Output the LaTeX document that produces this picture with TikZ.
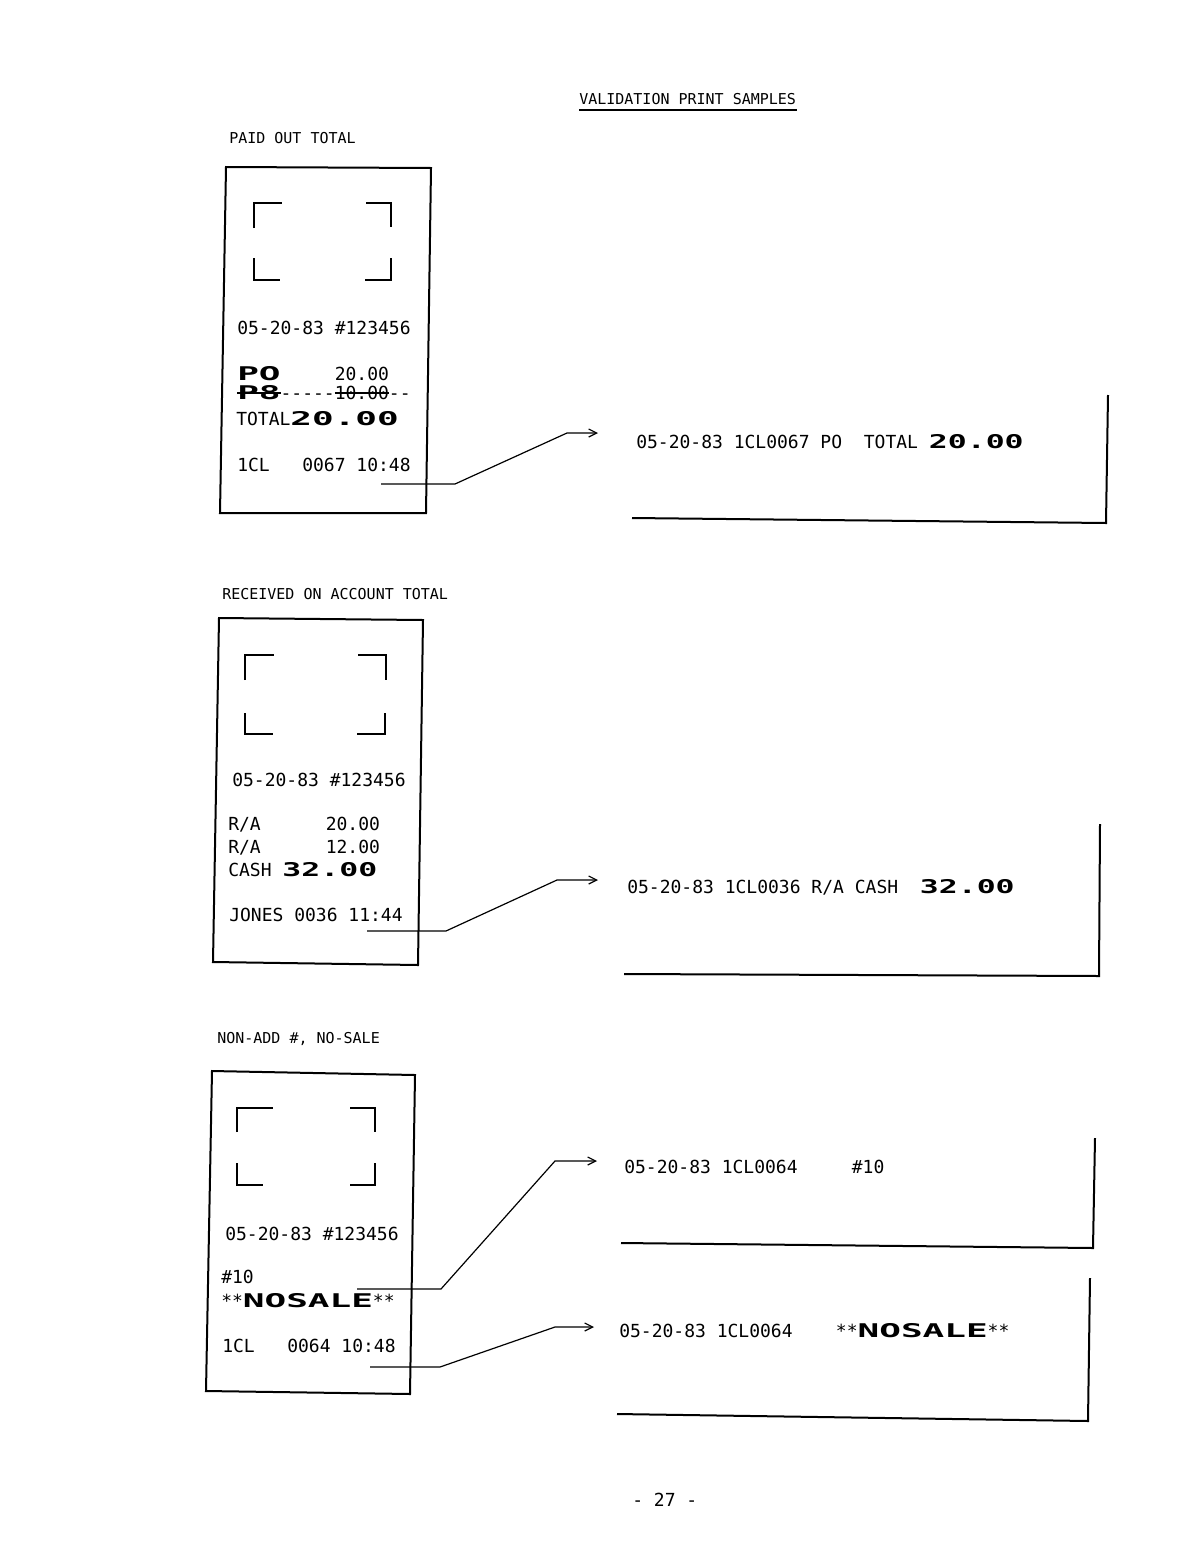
\documentclass[tikz,border=0pt]{standalone}
\usepackage{fontspec}
\usepackage{graphicx}
\setmonofont{DejaVu Sans Mono}
\usetikzlibrary{arrows.meta}
\newcommand\wideT[1]{\scalebox{2}[1.05]{\bfseries #1}}
\newcommand\wideN[1]{\scalebox{1.75}[1.05]{\bfseries #1}}
\newcommand\strk[1]{\setbox0=\hbox{#1}\rlap{\rule[0.3em]{\wd0}{0.07em}}\box0}
\begin{document}
\begin{tikzpicture}[x=0.75pt,y=-0.75pt,
 rtxt/.style={anchor=base west, inner sep=0, font=\fontsize{13.5}{14}\selectfont\ttfamily},
 htxt/.style={anchor=base west, inner sep=0, font=\fontsize{11.25}{12}\selectfont\ttfamily},
 frame/.style={line width=1.5pt, line join=miter},
 brk/.style={line width=1.8pt},
 lead/.style={line width=0.9pt},
 arr/.style={lead, -{Straight Barb[length=6pt,width=6pt]}}]
\useasboundingbox (0,0) rectangle (1202,1560);

% title
\node[htxt] (title) at (579,104) {VALIDATION PRINT SAMPLES};
\draw[line width=1pt] (579,110) -- (797,110);

%================ 1: PAID OUT TOTAL
\node[htxt] (h1) at (229,143) {PAID OUT TOTAL};
\draw[frame] (226,167) -- (431,168) -- (426,513) -- (220,513) -- cycle;
\draw[brk] (254,228) -- (254,203) -- (282,203);
\draw[brk] (366,203) -- (391,203) -- (391,227);
\draw[brk] (254,258) -- (254,280) -- (280,280);
\draw[brk] (365,280) -- (391,280) -- (391,258);
\node[rtxt] (r1a) at (237,334) {05-20-83 \#123456};
\node[rtxt] (r1b) at (237,380) {\wideT{PO}~~~~~20.00};
\node[rtxt] (r1c) at (237,399) {\strk{\wideT{P8}}-----\strk{10.00}--};
\node[rtxt] (r1d) at (236,425) {TOTAL\wideT{20.00}};
\node[rtxt] (r1e) at (237,471) {1CL~~~0067 10:48};
\coordinate (s1) at (381,484);
\coordinate (t1) at (598,433);
\draw[arr] (s1) -- (455,484) -- (567,433) -- (t1);
\node[rtxt] (v1) at (636,448) {05-20-83 1CL0067 PO~~TOTAL \wideN{20.00}};
\draw[frame] (632,518) -- (1106,523) -- (1108,395);

%================ 2: RECEIVED ON ACCOUNT TOTAL
\node[htxt] (h2) at (222,599) {RECEIVED ON ACCOUNT TOTAL};
\draw[frame] (219,618) -- (423,620) -- (418,965) -- (213,962) -- cycle;
\draw[brk] (245,680) -- (245,655) -- (274,655);
\draw[brk] (358,655) -- (386,655) -- (386,680);
\draw[brk] (245,713) -- (245,734) -- (273,734);
\draw[brk] (357,734) -- (385,734) -- (385,713);
\node[rtxt] (r2a) at (232,786) {05-20-83 \#123456};
\node[rtxt] (r2b) at (228,830) {R/A~~~~~~20.00};
\node[rtxt] (r2c) at (228,853) {R/A~~~~~~12.00};
\node[rtxt] (r2d) at (228,876) {CASH \wideN{32.00}};
\node[rtxt] (r2e) at (229,921) {JONES 0036 11:44};
\coordinate (s2) at (367,931);
\coordinate (t2) at (598,880);
\draw[arr] (s2) -- (446,931) -- (557,880) -- (t2);
\node[rtxt] (v2) at (627,893) {05-20-83 1CL0036 R/A CASH~~\wideN{32.00}};
\draw[frame] (624,974) -- (1099,976) -- (1100,824);

%================ 3: NON-ADD #, NO-SALE
\node[htxt] (h3) at (217,1043) {NON-ADD \#, NO-SALE};
\draw[frame] (212,1071) -- (415,1075) -- (410,1394) -- (206,1391) -- cycle;
\draw[brk] (237,1132) -- (237,1108) -- (273,1108);
\draw[brk] (350,1108) -- (375,1108) -- (375,1132);
\draw[brk] (237,1163) -- (237,1185) -- (263,1185);
\draw[brk] (350,1185) -- (375,1185) -- (375,1163);
\node[rtxt] (r3a) at (225,1240) {05-20-83 \#123456};
\node[rtxt] (r3b) at (221,1283) {\#10};
\node[rtxt] (r3c) at (221,1307) {**\wideT{NOSALE}**};
\node[rtxt] (r3d) at (222,1352) {1CL~~~0064 10:48};
\coordinate (s3) at (357,1289);
\coordinate (t3) at (597,1161);
\draw[arr] (s3) -- (441,1289) -- (555,1161) -- (t3);
\coordinate (s4) at (370,1367);
\coordinate (t4) at (594,1327);
\draw[arr] (s4) -- (440,1367) -- (555,1327) -- (t4);
\node[rtxt] (v3) at (624,1173) {05-20-83 1CL0064~~~~~\#10};
\draw[frame] (621,1243) -- (1093,1248) -- (1095,1138);
\node[rtxt] (v4) at (619,1337) {05-20-83 1CL0064~~~~**\wideT{NOSALE}**};
\draw[frame] (617,1414) -- (1088,1421) -- (1090,1278);

% page number
\node[rtxt] (pg) at (632,1506) {- 27 -};
\end{tikzpicture}
\end{document}
